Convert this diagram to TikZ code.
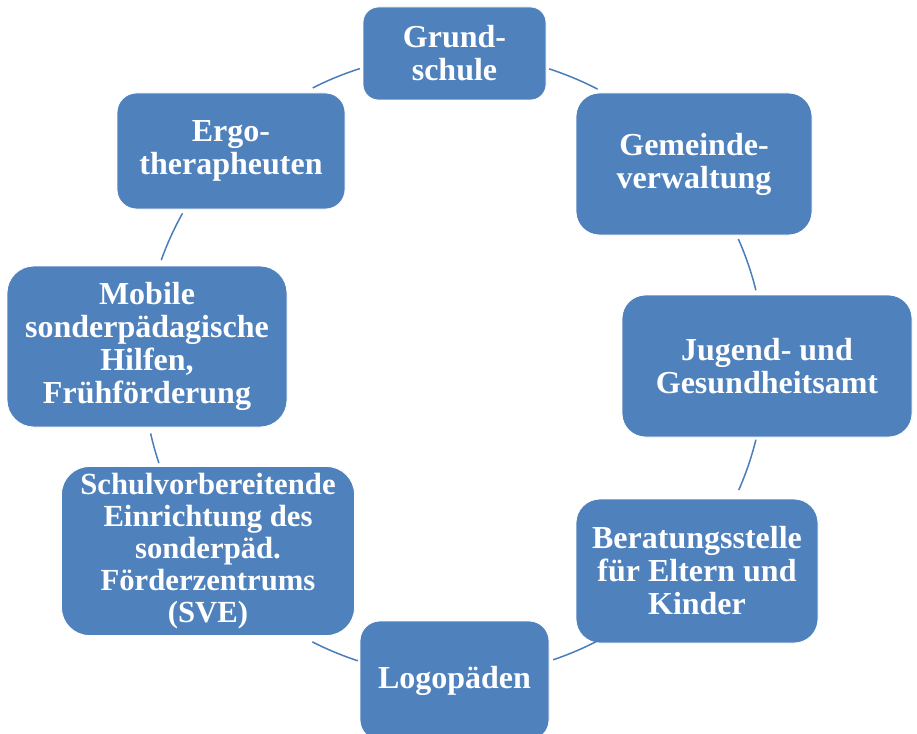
\documentclass[tikz,border=0pt]{standalone}
\usepackage{fontspec}
\setmainfont{Liberation Serif}
\definecolor{boxblue}{HTML}{4F81BD}
\definecolor{linkblue}{HTML}{4A7EBB}
\begin{document}
\begin{tikzpicture}[x=1pt,y=-1pt,
  box/.style={fill=boxblue, draw=white, line width=0.8pt, text=white, align=center,
    font=\bfseries\fontsize{32}{33}\selectfont, inner sep=0pt, rectangle},
  link/.style={draw=linkblue, line width=1.5pt}]
\useasboundingbox (0,0) rectangle (917,733);
\clip (0,0) rectangle (917,733);
\coordinate (c) at (454,365);
% nodes
\node[box, minimum width=183pt, minimum height=93pt, rounded corners=15.5pt] (grund) at (454.5,53.5) {Grund-\\schule};
\node[box, minimum width=236pt, minimum height=142pt, rounded corners=23.5pt] (gemeinde) at (694,164) {Gemeinde-\\verwaltung};
\node[box, minimum width=290pt, minimum height=142pt, rounded corners=23.5pt] (jugend) at (767,366) {Jugend- und\\Gesundheitsamt};
\node[box, minimum width=242pt, minimum height=144pt, rounded corners=24pt] (beratung) at (697,571) {Beratungsstelle\\für Eltern und\\Kinder};
\node[box, minimum width=189pt, minimum height=119pt, rounded corners=20pt] (logo) at (454.5,680.5) {Logopäden};
\node[box, minimum width=293pt, minimum height=169pt, rounded corners=28pt,
      font=\bfseries\fontsize{30.7}{32}\selectfont] (schul) at (208,551) {Schulvorbereitende\\Einrichtung des\\sonderpäd.\\Förderzentrums\\(SVE)};
\node[box, minimum width=280pt, minimum height=161pt, rounded corners=27pt] (mobile) at (147,346.5) {Mobile\\sonderpädagische\\Hilfen,\\Frühförderung};
\node[box, minimum width=228pt, minimum height=116pt, rounded corners=19.5pt] (ergo) at (231,151) {Ergo-\\therapheuten};
% connectors: arcs of the cycle circle
\foreach \n/\a/\b in {gg/72.2/62.5, gj/23.9/13.9, jb/-13.9/-23.7, bl/-61.9/-71.4,
                      ls/-108/-117.1, sm/198.4/192.7, me/160.3/150.8, eg/117/107.6}{
  \coordinate (s\n) at ([shift={(\a:311pt)}]c);
  \draw[link] (s\n) arc[start angle=\a, end angle=\b, radius=311pt];
}
\end{tikzpicture}
\end{document}
